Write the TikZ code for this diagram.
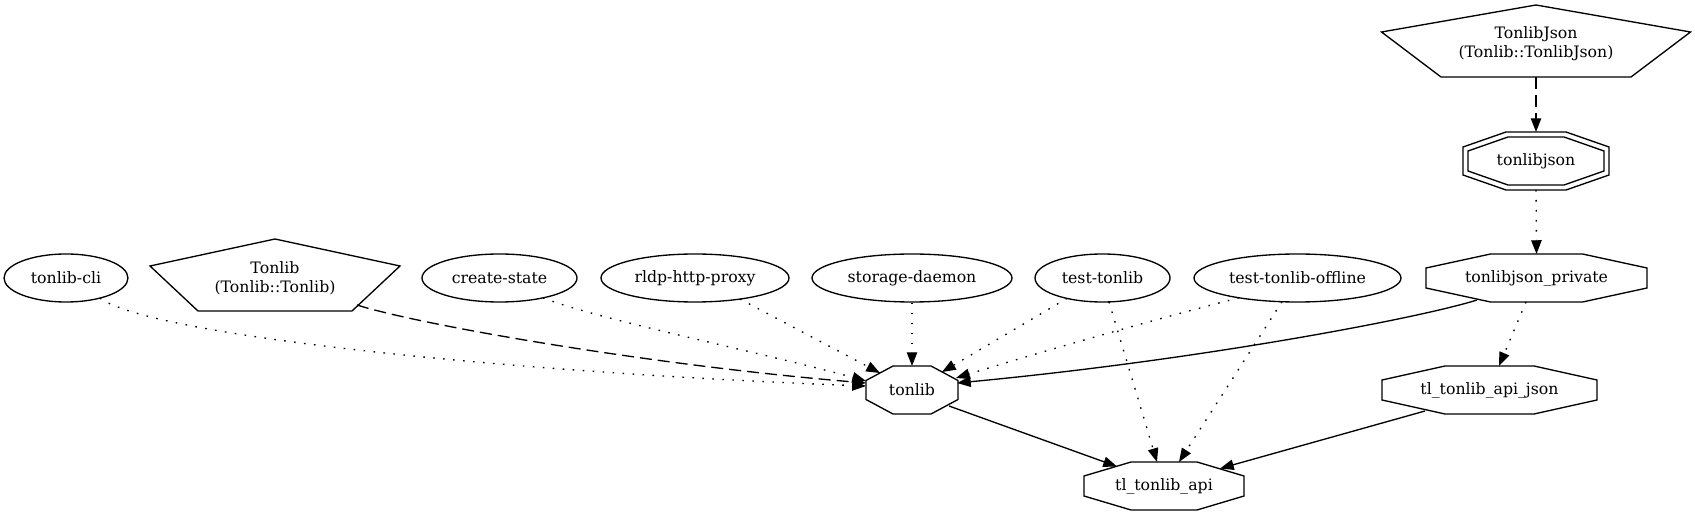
\documentclass[tikz,border=0pt]{standalone}
\usepackage{fontspec}
\setmainfont{DejaVu Serif}
\usetikzlibrary{arrows.meta,shapes.geometric}
\tikzset{
  lbl/.style={font=\fontsize{11.8pt}{14.3pt}\selectfont, align=center, inner sep=0pt},
  ell/.style={lbl, shape=ellipse, draw, line width=1pt, minimum height=36pt, minimum width=#1*1.5pt},
  shp/.style={draw, line width=1pt, line join=miter},
  conn/.style={line width=1pt, -{Triangle[length=10.3pt,width=7.8pt]}},
  dotl/.style={conn, dash pattern=on 1.2pt off 6.3pt},
  dashl/.style={conn, dash pattern=on 9pt off 4.5pt},
}
% #1 node, #2 half width, #3 half top edge, #4 half side, #5 half height
\newcommand\octgen[5]{\draw[shp] ([shift={(-#3,-#5)}]#1.center) -- ([shift={(#3,-#5)}]#1.center) -- ([shift={(#2,-#4)}]#1.center) -- ([shift={(#2,#4)}]#1.center) -- ([shift={(#3,#5)}]#1.center) -- ([shift={(-#3,#5)}]#1.center) -- ([shift={(-#2,#4)}]#1.center) -- ([shift={(-#2,-#4)}]#1.center) -- cycle;}
% #1 node, #2 apex, #3 shoulder half width, #4 shoulder y, #5 bottom half width, #6 bottom y
\newcommand\pentgen[6]{\draw[shp] ([shift={(0,-#2)}]#1.center) -- ([shift={(#3,-#4)}]#1.center) -- ([shift={(#5,#6)}]#1.center) -- ([shift={(-#5,#6)}]#1.center) -- ([shift={(-#3,-#4)}]#1.center) -- cycle;}
\begin{document}
\begin{tikzpicture}[x=0.75pt,y=-0.75pt]
\useasboundingbox[fill=white] (0,0) rectangle (1695,516);
% nodes
\node[lbl] (tj) at (1536,43.5) {TonlibJson\\(Tonlib::TonlibJson)};
\node[lbl] (tlj) at (1536,161) {tonlibjson};
\node[lbl] (priv) at (1536.5,278) {tonlibjson\_private};
\node[lbl] (apij) at (1489.5,390) {tl\_tonlib\_api\_json};
\node[lbl] (tonlib) at (912,390) {tonlib};
\node[lbl] (api) at (1164,486) {tl\_tonlib\_api};
\node[ell=62] (cli) at (66,278) {tonlib-cli};
\node[lbl] (tl) at (275,278) {Tonlib\\(Tonlib::Tonlib)};
\node[ell=77.5] (cs) at (499.5,278) {create-state};
\node[ell=94] (rldp) at (695,278) {rldp-http-proxy};
\node[ell=100] (sd) at (912,278) {storage-daemon};
\node[ell=67.5] (tt) at (1102.5,278) {test-tonlib};
\node[ell=103.5] (tto) at (1297.5,278) {test-tonlib-offline};
% shapes
\pentgen{tj}{38.5}{154.5}{11.5}{95}{33.5}
\pentgen{tl}{39}{125}{12}{77}{33}
\octgen{tlj}{73}{30}{14}{29}
\octgen{tlj}{68}{28}{10}{24}
\octgen{priv}{110.5}{46}{10}{24}
\octgen{apij}{107.5}{44.5}{10}{24}
\octgen{tonlib}{46}{19}{9.5}{24}
\octgen{api}{80}{33}{10}{24}
% connectors
\draw[dashl] ([shift={(0,33.5)}]tj.center) -- ([shift={(0,-29)}]tlj.center);
\draw[dotl] ([shift={(0,29)}]tlj.center) -- ([shift={(0,-24)}]priv.center);
\draw[conn] ([shift={(-59.5,22)}]priv.center) .. controls (1420,318) and (1200,360) .. ([shift={(45,-7)}]tonlib.center);
\draw[dotl] ([shift={(-10.5,24)}]priv.center) -- ([shift={(9.5,-24)}]apij.center);
\draw[conn] ([shift={(-64.5,21)}]apij.center) -- ([shift={(56,-17.5)}]api.center);
\draw[conn] ([shift={(37,16)}]tonlib.center) -- ([shift={(-47,-19.5)}]api.center);
\draw[dotl] ([shift={(6.5,23.9)}]tt.center) -- ([shift={(-7,-24)}]api.center);
\draw[dotl] ([shift={(-15.5,23.7)}]tto.center) -- ([shift={(15,-24)}]api.center);
\draw[dotl] ([shift={(-35.5,20.4)}]tt.center) -- ([shift={(30,-18)}]tonlib.center);
\draw[dotl] ([shift={(-58.5,19.8)}]tto.center) .. controls (1160,318) and (1040,352) .. ([shift={(44,-12)}]tonlib.center);
\draw[dotl] (sd.south) -- ([shift={(0,-24)}]tonlib.center);
\draw[dotl] ([shift={(45,21.1)}]rldp.center) -- ([shift={(-32,-17)}]tonlib.center);
\draw[dotl] ([shift={(43.5,19.9)}]cs.center) .. controls (600,320) and (760,352) .. ([shift={(-46,-9)}]tonlib.center);
\draw[dashl] ([shift={(82,27)}]tl.center) .. controls (420,325) and (650,365) .. ([shift={(-46,-7)}]tonlib.center);
\draw[dotl] ([shift={(34,20.1)}]cli.center) .. controls (150,335) and (500,372) .. ([shift={(-46,-4)}]tonlib.center);
\end{tikzpicture}
\end{document}
